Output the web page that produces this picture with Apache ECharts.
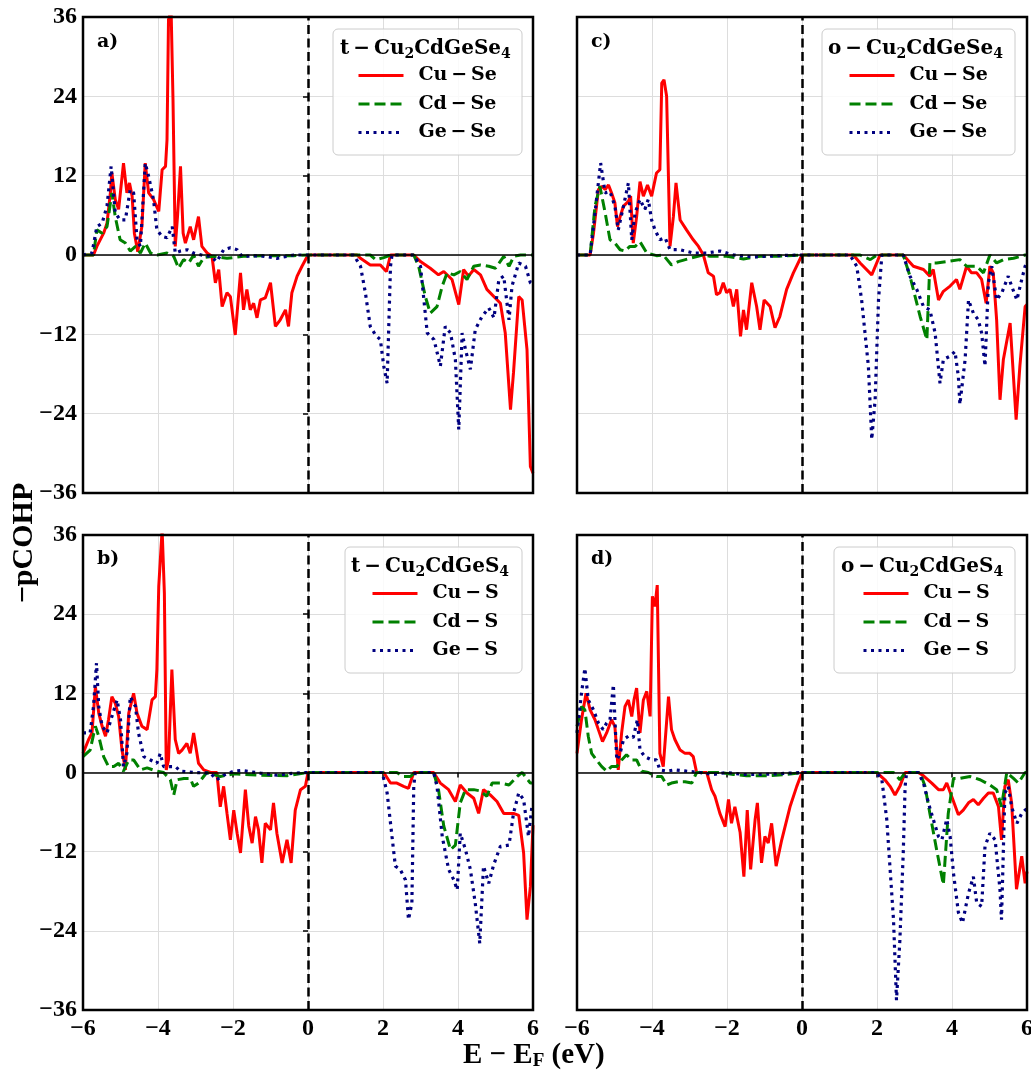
<!DOCTYPE html>
<html>
<head>
<meta charset="utf-8">
<script src="https://cdn.jsdelivr.net/npm/echarts@6/dist/echarts.min.js"></script>
<style>html,body{margin:0;padding:0;background:#fff}#c{width:1031px;height:1070px}</style>
</head>
<body>
<div id="c"></div>
<script>
// ---------- data (E - EF in eV, -pCOHP) ----------
const xTicks = [-6, -4, -2, 0, 2, 4, 6];
const yTicks = [-36, -24, -12, 0, 12, 24, 36];
const panelLabels = ['a)', 'b)', 'c)', 'd)'];
const legendTitles = [
  ['t\u2009−\u2009Cu', '2', 'CdGeSe', '4'],
  ['t\u2009−\u2009Cu', '2', 'CdGeS', '4'],
  ['o\u2009−\u2009Cu', '2', 'CdGeSe', '4'],
  ['o\u2009−\u2009Cu', '2', 'CdGeS', '4']
];
const seNames = ['Cu\u2009−\u2009Se', 'Cd\u2009−\u2009Se', 'Ge\u2009−\u2009Se'];
const sNames = ['Cu\u2009−\u2009S', 'Cd\u2009−\u2009S', 'Ge\u2009−\u2009S'];

// panel a) t-Cu2CdGeSe4
const a_CuSe = [[-6,0],[-5.72,0],[-5.63,1.3],[-5.45,3.3],[-5.36,4.8],[-5.27,9.4],[-5.23,12.4],[-5.14,8.4],[-5.05,6.9],[-4.92,13.9],[-4.83,9.4],[-4.76,10.9],[-4.69,8.9],[-4.63,3.3],[-4.54,0.5],[-4.43,4.3],[-4.34,13.9],[-4.25,9.4],[-4.12,8.4],[-3.98,6.6],[-3.89,12.9],[-3.80,13.4],[-3.76,17.4],[-3.72,35.6],[-3.65,37],[-3.60,23.5],[-3.54,1.3],[-3.48,5.8],[-3.40,13.4],[-3.33,3.3],[-3.27,1.8],[-3.14,4.3],[-3.05,2.3],[-2.92,5.8],[-2.83,1.3],[-2.69,0.3],[-2.56,-0.2],[-2.47,-4.2],[-2.38,-2.2],[-2.29,-7.8],[-2.16,-5.7],[-2.07,-6.3],[-1.94,-12.1],[-1.80,-2.7],[-1.72,-8.3],[-1.63,-5.2],[-1.54,-8.3],[-1.45,-7.3],[-1.36,-9.5],[-1.27,-6.8],[-1.14,-6.5],[-1.00,-4.2],[-0.87,-10.8],[-0.74,-9.8],[-0.60,-8.3],[-0.52,-10.8],[-0.43,-5.7],[-0.29,-3.2],[-0.16,-1.7],[0,0],[1.31,0],[1.40,-0.5],[1.66,-1.5],[1.93,-1.5],[2.09,-2.5],[2.20,0],[2.82,0],[3.00,-1],[3.26,-2],[3.48,-3],[3.62,-2.5],[3.84,-3.7],[4.02,-7.5],[4.15,-2.2],[4.28,-3.2],[4.42,-2.2],[4.60,-3],[4.77,-5.2],[5.13,-7.3],[5.26,-11.8],[5.40,-23.4],[5.48,-17.8],[5.62,-6.3],[5.71,-6.8],[5.84,-14.3],[5.93,-32],[6,-33]];
const a_CdSe = [[-6,0],[-5.72,0],[-5.63,3.8],[-5.49,3.3],[-5.36,4.3],[-5.23,9.4],[-5.14,5.8],[-5.01,2.3],[-4.87,1.8],[-4.74,0.6],[-4.60,1.3],[-4.47,0.3],[-4.34,1.8],[-4.20,0.3],[-4.02,0],[-3.76,0.3],[-3.58,-0.2],[-3.45,-2],[-3.32,-0.7],[-3.18,-1.2],[-3.05,0],[-2.92,-1.7],[-2.78,-0.4],[-2.52,-0.2],[-2.16,-0.5],[-1.72,-0.2],[-1.27,-0.1],[-0.38,-0.1],[0,0],[1.66,0],[1.80,-0.7],[2.02,-0.4],[2.20,0],[2.82,0],[2.95,-1.7],[3.13,-6.3],[3.26,-8.8],[3.44,-7.8],[3.58,-4.7],[3.71,-2.7],[3.89,-3],[4.06,-2.5],[4.24,-3.7],[4.42,-1.7],[4.60,-1.5],[4.82,-1.7],[5.00,-2],[5.22,-0.2],[5.36,-1.7],[5.49,-0.2],[5.67,0],[6,0]];
const a_GeSe = [[-6,0],[-5.76,0.3],[-5.63,4.3],[-5.49,4.8],[-5.36,7.4],[-5.25,13.4],[-5.14,6.4],[-5.01,5.3],[-4.87,5.3],[-4.74,9.9],[-4.65,9.4],[-4.56,2.3],[-4.47,1.3],[-4.34,13.9],[-4.25,11.9],[-4.12,8.4],[-4.03,3.8],[-3.89,2.8],[-3.76,2.6],[-3.62,4.3],[-3.54,0.3],[-3.40,0.6],[-3.22,0.8],[-3.05,0.3],[-2.78,-0.1],[-2.60,-0.2],[-2.43,-1],[-2.25,0.8],[-2.07,1.1],[-1.89,0.8],[-1.76,-0.2],[-1.27,-0.1],[-0.83,-0.5],[-0.38,0],[0,0],[1.22,0],[1.40,-1.7],[1.53,-5.7],[1.66,-10.8],[1.80,-12.1],[1.93,-12.8],[2.02,-16.8],[2.11,-19.4],[2.20,-1.7],[2.24,0],[2.82,0],[3.00,-1.7],[3.18,-11.8],[3.36,-12.8],[3.53,-16.8],[3.66,-10.8],[3.80,-11.8],[3.93,-15.8],[4.02,-26.4],[4.11,-11.8],[4.20,-14.3],[4.33,-17.3],[4.46,-11.3],[4.64,-9.3],[4.82,-8],[4.96,-9.5],[5.09,-3.7],[5.22,-3.2],[5.36,-9.8],[5.44,-4.7],[5.62,-1.2],[5.80,-1.7],[5.93,-4.2],[6,-4.5]];

// panel b) t-Cu2CdGeS4
const b_CuS = [[-6,2.9],[-5.85,5],[-5.76,6],[-5.67,13],[-5.58,9],[-5.49,7],[-5.40,5.5],[-5.32,8],[-5.23,11.5],[-5.14,10.5],[-5.05,8.5],[-4.96,3.4],[-4.87,0.4],[-4.78,9],[-4.65,12],[-4.56,9],[-4.43,7],[-4.29,6.5],[-4.16,11],[-4.07,11.5],[-4.03,15.6],[-3.98,28.2],[-3.94,32],[-3.89,36.8],[-3.83,27.2],[-3.78,0.4],[-3.72,1.9],[-3.63,15.6],[-3.54,5],[-3.45,2.9],[-3.36,3.4],[-3.23,4.4],[-3.14,2.9],[-3.05,6],[-2.92,1.4],[-2.78,0.4],[-2.60,0],[-2.43,0],[-2.34,-5.2],[-2.25,-2.1],[-2.16,-6.2],[-2.07,-10.2],[-1.98,-5.7],[-1.89,-9.2],[-1.80,-12.2],[-1.67,-2.6],[-1.58,-8.1],[-1.49,-10.7],[-1.40,-6.7],[-1.32,-8.7],[-1.23,-13.7],[-1.14,-7.7],[-1.00,-8.7],[-0.92,-4.6],[-0.83,-9.2],[-0.69,-13.7],[-0.56,-10.2],[-0.45,-13.7],[-0.34,-5.7],[-0.20,-2.6],[-0.07,-2.1],[0,0],[2.02,0],[2.20,-1.6],[2.37,-1.6],[2.55,-2.1],[2.68,-2.4],[2.82,0],[3.35,0],[3.53,-1.6],[3.75,-2.6],[3.93,-4.4],[4.06,-1.9],[4.24,-3.1],[4.42,-3.9],[4.55,-6.2],[4.68,-2.6],[4.86,-3.4],[5.04,-4.4],[5.22,-6.2],[5.48,-6.2],[5.62,-6.5],[5.75,-12.2],[5.84,-22.3],[5.93,-17.3],[6,-8]];
const b_CdS = [[-6,2.4],[-5.81,3.4],[-5.67,7],[-5.58,5.5],[-5.45,2.4],[-5.32,0.9],[-5.18,0.9],[-5.05,1.4],[-4.92,0.2],[-4.78,1.9],[-4.65,1.9],[-4.47,0.4],[-4.29,0.7],[-4.03,0.2],[-3.85,0],[-3.67,-1.1],[-3.58,-3.4],[-3.49,-1.1],[-3.31,-0.9],[-3.14,-0.9],[-3.05,-2.1],[-2.92,-1.6],[-2.70,0],[-2.34,-0.6],[-1.98,-0.2],[-1.27,-0.4],[-0.56,-0.5],[0,0],[2.37,0],[2.55,-0.6],[2.73,-0.6],[2.86,0],[3.35,0],[3.48,-2.6],[3.62,-8.1],[3.80,-11.7],[3.93,-11],[4.06,-4.6],[4.20,-2.6],[4.42,-2.6],[4.60,-2.8],[4.77,-3.6],[4.91,-1.6],[5.13,-1.6],[5.36,-1.9],[5.58,-0.6],[5.71,0],[5.93,-1.6],[6,-1.6]];
const b_GeS = [[-6,6],[-5.81,6],[-5.72,10],[-5.64,16.6],[-5.58,10],[-5.49,7],[-5.36,6],[-5.23,8.5],[-5.09,11],[-5.00,8],[-4.92,0.9],[-4.83,2.9],[-4.74,11.5],[-4.60,10],[-4.52,6],[-4.38,2.4],[-4.20,1.9],[-4.03,1.4],[-3.94,2.9],[-3.85,0.9],[-3.67,0.9],[-3.54,0.9],[-3.40,0.2],[-3.05,0],[-2.60,-0.1],[-2.43,-1.1],[-2.25,-0.4],[-1.98,0.2],[-1.76,0.3],[-1.27,-0.1],[-0.83,-0.4],[-0.38,-0.1],[0,0],[1.98,0],[2.11,-3.1],[2.24,-9.7],[2.33,-14.2],[2.46,-14.7],[2.60,-16.3],[2.68,-22.3],[2.77,-19.8],[2.82,-2.1],[2.86,0],[3.35,0],[3.44,-2.1],[3.58,-9.7],[3.75,-14.7],[3.89,-16.3],[3.98,-17.8],[4.06,-9.2],[4.20,-11.7],[4.33,-14.7],[4.46,-19.8],[4.58,-25.9],[4.68,-14.2],[4.82,-16.8],[4.95,-14],[5.13,-11.2],[5.36,-11],[5.48,-6.2],[5.62,-3.1],[5.75,-4.1],[5.88,-9.7],[5.97,-5.2],[6,-5]];

// panel c) o-Cu2CdGeSe4
const c_CuSe = [[-6,0],[-5.65,0],[-5.56,3.3],[-5.43,9.9],[-5.34,10.4],[-5.25,9.9],[-5.16,10.6],[-5.08,9.4],[-4.99,7.9],[-4.92,4.3],[-4.85,5.8],[-4.76,7.4],[-4.63,8.1],[-4.57,8.9],[-4.50,1.8],[-4.41,5.8],[-4.32,11.1],[-4.23,8.9],[-4.12,10.6],[-4.01,8.9],[-3.88,12.4],[-3.79,12.9],[-3.74,26],[-3.68,26.5],[-3.61,24],[-3.52,1.3],[-3.43,5.8],[-3.36,10.9],[-3.25,5.3],[-3.08,3.8],[-2.90,2.3],[-2.76,1.3],[-2.63,0],[-2.50,-2.7],[-2.36,-3.2],[-2.28,-6],[-2.19,-5.7],[-2.10,-4.2],[-2.01,-5.7],[-1.92,-5.2],[-1.83,-7.8],[-1.74,-5.2],[-1.64,-12.3],[-1.56,-8.3],[-1.48,-11.3],[-1.34,-4.2],[-1.21,-7.8],[-1.12,-11.3],[-1.01,-6.8],[-0.85,-7.8],[-0.72,-11],[-0.59,-9.3],[-0.41,-5.2],[-0.23,-2.7],[0,0],[1.37,0],[1.55,-1.2],[1.86,-3],[2.08,0],[2.70,0],[2.97,-1.7],[3.24,-2.2],[3.41,-3.2],[3.50,-2.2],[3.64,-6.8],[3.77,-5.5],[3.95,-4.7],[4.12,-3.7],[4.21,-5.2],[4.39,-1.7],[4.52,-2.7],[4.66,-2.7],[4.79,-3.7],[4.91,-7.3],[5.01,-1.7],[5.10,-2.7],[5.19,-9.8],[5.28,-21.9],[5.37,-15.8],[5.55,-10.3],[5.71,-24.9],[5.81,-16.8],[5.95,-7.8],[6,-7.5]];
const c_CdSe = [[-6,0],[-5.65,0],[-5.52,7.4],[-5.39,10.4],[-5.25,6.4],[-5.12,2.3],[-4.99,1.8],[-4.85,0.8],[-4.72,0.6],[-4.59,1.3],[-4.45,1.3],[-4.32,2],[-4.14,0.3],[-3.88,-0.1],[-3.70,0],[-3.48,-1.5],[-3.30,-1],[-2.99,-0.5],[-2.63,0],[-2.45,-0.2],[-2.01,-0.2],[-1.56,-0.6],[-1.12,-0.2],[-0.68,-0.2],[0,0],[1.55,0],[1.82,-0.7],[2.00,0],[2.70,0],[2.88,-3.2],[3.15,-9.3],[3.33,-12.8],[3.41,-1.2],[3.59,-1.2],[3.86,-1],[4.21,-0.7],[4.39,-1.7],[4.66,-1.7],[4.84,-2.7],[5.01,0],[5.19,-1.2],[5.37,-0.7],[5.64,-0.5],[5.95,0],[6,0]];
const c_GeSe = [[-6,0],[-5.65,0],[-5.52,6.4],[-5.37,13.9],[-5.25,9.4],[-5.12,9.6],[-4.99,7.4],[-4.90,3.8],[-4.76,7.4],[-4.63,10.9],[-4.54,2.3],[-4.45,6.4],[-4.32,8.4],[-4.19,6.9],[-4.10,8.4],[-4.01,5.3],[-3.92,3.8],[-3.79,2.3],[-3.65,2.6],[-3.52,0.8],[-3.25,0.8],[-2.90,0.3],[-2.54,0.3],[-2.19,0.6],[-1.83,0],[-1.30,-0.3],[-0.68,-0.1],[0,0],[1.28,0],[1.46,-1.7],[1.59,-6.8],[1.68,-11.8],[1.77,-16.8],[1.86,-27.9],[1.95,-21.9],[2.04,-6.8],[2.13,0],[2.70,0],[2.88,-3.2],[3.06,-5.2],[3.24,-7.8],[3.41,-8.3],[3.55,-11.8],[3.68,-19.4],[3.77,-15.8],[3.95,-15.3],[4.08,-14.6],[4.17,-18.4],[4.21,-22.6],[4.35,-15.8],[4.44,-6.8],[4.57,-8.8],[4.70,-9.8],[4.79,-11.8],[4.88,-16.8],[4.97,-4.2],[5.06,-1.7],[5.19,-6.8],[5.33,-5.7],[5.50,-3.2],[5.59,-4.7],[5.73,-6.8],[5.86,-3.7],[5.95,-1.7],[6,-1]];

// panel d) o-Cu2CdGeS4
const d_CuS = [[-6,2.9],[-5.88,8],[-5.76,12],[-5.65,9.5],[-5.52,8],[-5.43,6.5],[-5.32,4.7],[-5.21,6],[-5.08,8],[-4.99,7],[-4.90,0.4],[-4.81,6],[-4.72,10],[-4.63,11],[-4.54,8.5],[-4.48,11],[-4.41,12.8],[-4.32,6],[-4.23,11],[-4.14,12.3],[-4.05,8.5],[-3.99,26.7],[-3.92,25.2],[-3.86,28.4],[-3.79,2.9],[-3.70,0.9],[-3.56,11.5],[-3.48,6.5],[-3.39,5],[-3.25,3.4],[-3.12,2.9],[-2.99,2.9],[-2.90,2.4],[-2.81,0],[-2.54,0],[-2.41,-2.6],[-2.32,-3.6],[-2.19,-6.2],[-2.05,-8.2],[-1.96,-4.1],[-1.88,-7.7],[-1.79,-5.2],[-1.65,-9.1],[-1.55,-15.8],[-1.46,-5.7],[-1.37,-14.7],[-1.25,-7.1],[-1.19,-4.6],[-1.08,-13.7],[-0.99,-9.7],[-0.90,-10.7],[-0.81,-7.7],[-0.69,-14.2],[-0.54,-10.2],[-0.32,-5.2],[-0.14,-2.1],[0,0],[1.99,0],[2.21,-1.1],[2.35,-2.1],[2.48,-3.4],[2.61,-2.1],[2.75,0],[3.10,0],[3.24,-0.5],[3.46,-1.6],[3.64,-2.6],[3.77,-2.6],[3.86,-1.6],[3.99,-3.6],[4.17,-6.4],[4.30,-5.7],[4.44,-4.6],[4.57,-4.1],[4.70,-4.9],[4.84,-3.9],[4.97,-3.1],[5.10,-3.1],[5.24,-5.2],[5.32,-10.2],[5.41,-2.1],[5.50,-1.1],[5.59,-4.6],[5.72,-17.7],[5.86,-12.7],[5.95,-16.8],[6,-15]];
const d_CdS = [[-6,7],[-5.88,10],[-5.79,9.5],[-5.70,5.5],[-5.61,2.9],[-5.48,1.9],[-5.34,0.9],[-5.21,0.2],[-5.08,0.9],[-4.94,0.9],[-4.81,1.9],[-4.68,2.7],[-4.54,1.9],[-4.41,1.9],[-4.27,0.2],[-4.10,0],[-3.88,-0.6],[-3.74,-0.6],[-3.61,-1.9],[-3.48,-1.6],[-3.30,-1.4],[-3.12,-1.4],[-2.94,-1.6],[-2.81,0],[-2.54,0],[-2.19,0],[-1.83,-0.3],[-1.48,-0.5],[-0.94,-0.5],[-0.41,-0.3],[0,0],[2.44,0],[2.61,-1.1],[2.75,0],[3.15,0],[3.28,-2.1],[3.41,-6.2],[3.59,-11.7],[3.77,-17],[3.90,-6.2],[4.04,-0.9],[4.21,-0.9],[4.48,-0.6],[4.75,-1.1],[5.01,-1.9],[5.19,-2.6],[5.32,-5.2],[5.46,0],[5.64,-0.9],[5.77,-1.6],[5.95,0],[6,0]];
const d_GeS = [[-6,6],[-5.88,12],[-5.79,15.8],[-5.70,11],[-5.56,9.5],[-5.43,7.5],[-5.30,6.5],[-5.21,7.5],[-5.12,8],[-5.03,13.3],[-4.94,1.9],[-4.85,2.9],[-4.76,5],[-4.63,5.5],[-4.50,5.3],[-4.39,8],[-4.32,3.4],[-4.19,2.4],[-4.01,1.9],[-3.88,1.9],[-3.79,0.4],[-3.61,0.2],[-3.39,0.4],[-3.08,0.2],[-2.72,0],[-2.36,-0.3],[-2.01,0],[-1.56,-0.3],[-1.12,-0.3],[-0.68,-0.2],[0,0],[1.99,0],[2.13,-1.1],[2.26,-7.1],[2.35,-14.7],[2.44,-22.3],[2.52,-34.5],[2.61,-25.4],[2.70,-12.2],[2.75,-2.1],[2.79,0],[3.10,0],[3.24,-1.6],[3.37,-4.6],[3.50,-7.1],[3.64,-9.7],[3.73,-10.2],[3.86,-7.1],[3.95,-9.7],[4.04,-15.3],[4.17,-21.2],[4.28,-22.8],[4.44,-18.3],[4.57,-15.8],[4.66,-19.8],[4.79,-20.3],[4.88,-11.2],[5.01,-9.2],[5.15,-10.2],[5.28,-17.8],[5.32,-22.3],[5.41,-3.1],[5.50,-2.1],[5.59,-5.2],[5.73,-7.7],[5.86,-6.2],[5.95,-5.7],[6,-5.5]];

const panelData = [
  [a_CuSe, a_CdSe, a_GeSe],
  [b_CuS, b_CdS, b_GeS],
  [c_CuSe, c_CdSe, c_GeSe],
  [d_CuS, d_CdS, d_GeS]
];
const panelNames = [seNames, sNames, seNames, sNames];

// ---------- layout / style ----------
const SERIF = '"Liberation Serif", "Times New Roman", serif';
const DSERIF = '"DejaVu Serif", serif';
const grids = [
  {left: 83, top: 17, width: 450, height: 476},
  {left: 83, top: 535, width: 450, height: 475},
  {left: 577, top: 17, width: 450, height: 476},
  {left: 577, top: 535, width: 450, height: 475}
];
const colors = ['#ff0000', '#008000', '#000080'];
const lineStyles = [
  {color: colors[0], width: 3, type: 'solid'},
  {color: colors[1], width: 3, type: [11, 5], cap: 'butt'},
  {color: colors[2], width: 3.2, type: [3, 4.5], cap: 'butt'}
];
const legendBoxes = [
  {x: 333, y: 29, w: 189, h: 126, itemX: 357, titleX: 340},
  {x: 345, y: 547, w: 177, h: 126, itemX: 371, titleX: 351},
  {x: 822, y: 29, w: 193, h: 126, itemX: 848, titleX: 828},
  {x: 834, y: 547, w: 181, h: 126, itemX: 862, titleX: 841}
];
const labelPos = [[97, 33], [97, 550], [591, 33], [591, 550]];

const minus = v => (v < 0 ? '−' + Math.abs(v) : String(v));

const xAxes = grids.map((g, i) => {
  const bottom = (i === 1 || i === 3);
  return {
    type: 'value', gridIndex: i, min: xTicks[0], max: xTicks[xTicks.length - 1], interval: 2,
    axisLine: {show: false},
    axisTick: {show: bottom, length: 5, lineStyle: {color: '#000', width: 1.5}},
    axisLabel: {show: bottom, formatter: minus, color: '#000', fontFamily: SERIF, fontWeight: 'bold', fontSize: 24, margin: 7},
    splitLine: {show: true, lineStyle: {color: '#dddddd', width: 1}}
  };
});
const yAxes = grids.map((g, i) => {
  const left = (i === 0 || i === 1);
  return {
    type: 'value', gridIndex: i, min: yTicks[0], max: yTicks[yTicks.length - 1], interval: 12,
    axisLine: {show: false},
    axisTick: {show: left, length: 5, lineStyle: {color: '#000', width: 1.5}},
    axisLabel: {show: left, formatter: minus, color: '#000', fontFamily: SERIF, fontWeight: 'bold', fontSize: 24, margin: 6},
    splitLine: {show: true, lineStyle: {color: '#dddddd', width: 1}}
  };
});

const series = [];
panelData.forEach((sets, p) => {
  sets.forEach((d, k) => {
    const s = {
      type: 'line', name: panelNames[p][k], xAxisIndex: p, yAxisIndex: p,
      data: d, showSymbol: false, symbol: 'none', clip: true, animation: false,
      color: colors[k], itemStyle: {color: colors[k]},
      lineStyle: lineStyles[k], z: 2 + k
    };
    if (k === 2) {
      s.markLine = {
        silent: true, symbol: ['none', 'none'], animation: false, label: {show: false},
        data: [
          {yAxis: 0, lineStyle: {color: '#000', width: 1.6, type: 'solid'}},
          {xAxis: 0, lineStyle: {color: '#000', width: 2.5, type: [9, 4.5]}}
        ]
      };
    }
    series.push(s);
  });
});

const legends = legendBoxes.map((b, p) => ({
  orient: 'vertical', left: b.itemX, top: b.y + 37, padding: 0,
  itemWidth: 45, itemHeight: 20, itemGap: 9.5,
  data: panelNames[p], selectedMode: false,
  itemStyle: {opacity: 0, borderWidth: 0},
  lineStyle: {width: 3},
  textStyle: {color: '#000', fontFamily: DSERIF, fontWeight: 'bold', fontSize: 19, padding: [0, 0, 0, 10]}
}));

const richTitle = {
  m: {fontFamily: DSERIF, fontWeight: 'bold', fontSize: 20, color: '#000'},
  s: {fontFamily: DSERIF, fontWeight: 'bold', fontSize: 14, color: '#000', padding: [11, 0, 0, 0]}
};
const titles = [];
legendBoxes.forEach((b, p) => {
  const t = legendTitles[p];
  titles.push({
    text: '{m|' + t[0] + '}{s|' + t[1] + '}{m|' + t[2] + '}{s|' + t[3] + '}',
    left: b.titleX, top: b.y + 7, padding: 0,
    textStyle: {rich: richTitle}
  });
});
panelLabels.forEach((l, p) => {
  titles.push({text: l, left: labelPos[p][0], top: labelPos[p][1], padding: 0,
    textStyle: {fontFamily: DSERIF, fontWeight: 'bold', fontSize: 19, color: '#000'}});
});
titles.push({
  text: '{m|E − E}{s|F}{m| (eV)}', left: 463, top: 1040, padding: 0,
  textStyle: {rich: {
    m: {fontFamily: SERIF, fontWeight: 'bold', fontSize: 29, color: '#000'},
    s: {fontFamily: SERIF, fontWeight: 'bold', fontSize: 19, color: '#000', padding: [12, 0, 0, 0]}
  }}
});

const graphic = legendBoxes.map(b => ({
  type: 'rect', z: 3, silent: true,
  shape: {x: b.x, y: b.y, width: b.w, height: b.h, r: 5},
  style: {fill: 'rgba(255,255,255,0.85)', stroke: '#cccccc', lineWidth: 1}
}));
graphic.push({
  type: 'text', x: 24, y: 543, rotation: Math.PI / 2, z: 5,
  style: {text: '−pCOHP', font: 'bold 30px "Liberation Serif", serif', fill: '#000',
    align: 'center', verticalAlign: 'middle', textAlign: 'center', textVerticalAlign: 'middle'}
});

const chart = echarts.init(document.getElementById('c'), null, {renderer: 'canvas'});
chart.setOption({
  animation: false,
  backgroundColor: '#fff',
  grid: grids.map(g => Object.assign({show: true, borderColor: '#000', borderWidth: 2.5, backgroundColor: 'transparent', z: 10, containLabel: false, outerBoundsMode: 'none'}, g)),
  xAxis: xAxes,
  yAxis: yAxes,
  legend: legends,
  title: titles,
  graphic: graphic,
  series: series
});
</script>
</body>
</html>
